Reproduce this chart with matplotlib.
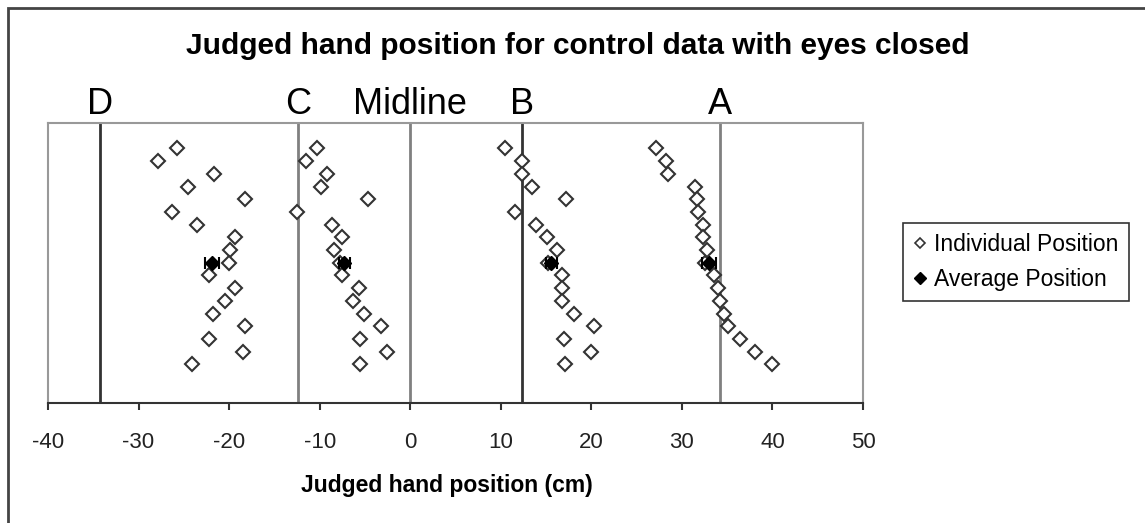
import numpy as np
import matplotlib
matplotlib.use("Agg")
import matplotlib.pyplot as plt
from matplotlib.patches import Rectangle
from matplotlib.lines import Line2D
import matplotlib.transforms as mtransforms

plt.rcParams["font.family"] = ["Liberation Sans", "DejaVu Sans"]

# Judged positions (cm) of each participant, listed from the top row to the bottom row
target_d = [-25.7, -27.8, -21.7, -24.5, -18.3, -26.3, -23.5, -19.3, -19.9,
            -20.0, -22.2, -19.3, -20.4, -21.8, -18.3, -22.2, -18.5, -24.1]
target_c = [-10.3, -11.5, -9.2, -9.8, -4.7, -12.5, -8.6, -7.5, -8.4,
            -7.8, -7.5, -5.7, -6.3, -5.1, -3.2, -5.5, -2.6, -5.5]
target_b = [10.5, 12.3, 12.3, 13.5, 17.2, 11.6, 13.9, 15.1, 16.2,
            15.2, 16.8, 16.8, 16.8, 18.1, 20.3, 17.0, 20.0, 17.1]
target_a = [27.1, 28.2, 28.5, 31.5, 31.7, 31.8, 32.3, 32.3, 32.8,
            32.6, 33.6, 34.0, 34.2, 34.7, 35.1, 36.4, 38.1, 40.0]
participant_rows = [20, 19, 18, 17, 16, 15, 14, 13, 12,
                    11, 10, 9, 8, 7, 6, 5, 4, 3]

# Group averages and their error
average_x = [-21.9, -7.3, 15.6, 33.0]
average_err = [0.8, 0.6, 0.6, 0.8]
average_row = 11

# Reference lines for the targets and the body midline
ref_names = ["D", "C", "Midline", "B", "A"]
ref_x = [-34.3, -12.4, 0.0, 12.3, 34.2]
ref_colors = ["#333333", "#808080", "#808080", "#333333", "#808080"]

x_ticks = [-40, -30, -20, -10, 0, 10, 20, 30, 40, 50]

fig = plt.figure(figsize=(11.45, 5.23), dpi=100)
ax = fig.add_axes([48 / 1145, 1 - 402.5 / 523, (863 - 48) / 1145, (402.5 - 123) / 523])

for x, c in zip(ref_x, ref_colors):
    ax.axvline(x, color=c, lw=2.0, zorder=1)

for xs in (target_d, target_c, target_b, target_a):
    ax.plot(xs, participant_rows, linestyle="none", marker="D", markersize=7,
            markerfacecolor="white", markeredgecolor="#333333",
            markeredgewidth=1.5, zorder=3)

ax.errorbar(average_x, [average_row] * len(average_x), xerr=average_err,
            fmt="D", color="black", markersize=7, capsize=4,
            elinewidth=1.5, capthick=1.5, zorder=4)

ax.set_xlim(-40, 50)
ax.set_ylim(0, 22)
ax.set_xticks(x_ticks)
ax.set_xticklabels([str(t) for t in x_ticks], fontsize=16, color="#222222")
ax.set_yticks([])
ax.tick_params(axis="x", direction="out", length=5, width=1.5, color="#333333", pad=16)

for side in ("left", "right", "top"):
    ax.spines[side].set_color("#999999")
    ax.spines[side].set_linewidth(1.5)
ax.spines["bottom"].set_color("#333333")
ax.spines["bottom"].set_linewidth(1.5)

# Target names above each reference line
trans = mtransforms.blended_transform_factory(ax.transData, ax.transAxes)
for name, x in zip(ref_names, ref_x):
    ax.text(x, 1.003, name, transform=trans, ha="center", va="bottom",
            fontsize=26, color="black")

ax.set_xlabel("Judged hand position (cm)", fontsize=16.5, fontweight="bold")
ax.xaxis.set_label_coords(0.49, -0.255)

fig.text(0.505, 0.912, "Judged hand position for control data with eyes closed",
         ha="center", va="center", fontsize=21.5, fontweight="bold")

handles = [
    Line2D([], [], linestyle="none", marker="D", markersize=5.5, markerfacecolor="white",
           markeredgecolor="#333333", markeredgewidth=1.2),
    Line2D([], [], linestyle="none", marker="D", markersize=6, color="black"),
]
leg = fig.legend(handles, ["Individual Position", "Average Position"],
                 loc="upper left", bbox_to_anchor=(903 / 1145, 1 - 223 / 523),
                 frameon=True, fancybox=False, edgecolor="black", fontsize=16.5,
                 handlelength=0.6, handletextpad=0.3, borderpad=0.45,
                 labelspacing=0.5, borderaxespad=0)
leg.get_frame().set_linewidth(1.2)

# Outer chart border
fig.patches.append(Rectangle((8 / 1145, -0.02), 1.1, 1 - 8 / 523 + 0.02,
                             transform=fig.transFigure, fill=False,
                             edgecolor="#444444", linewidth=2.0))

fig.savefig("out.png", dpi=100)
